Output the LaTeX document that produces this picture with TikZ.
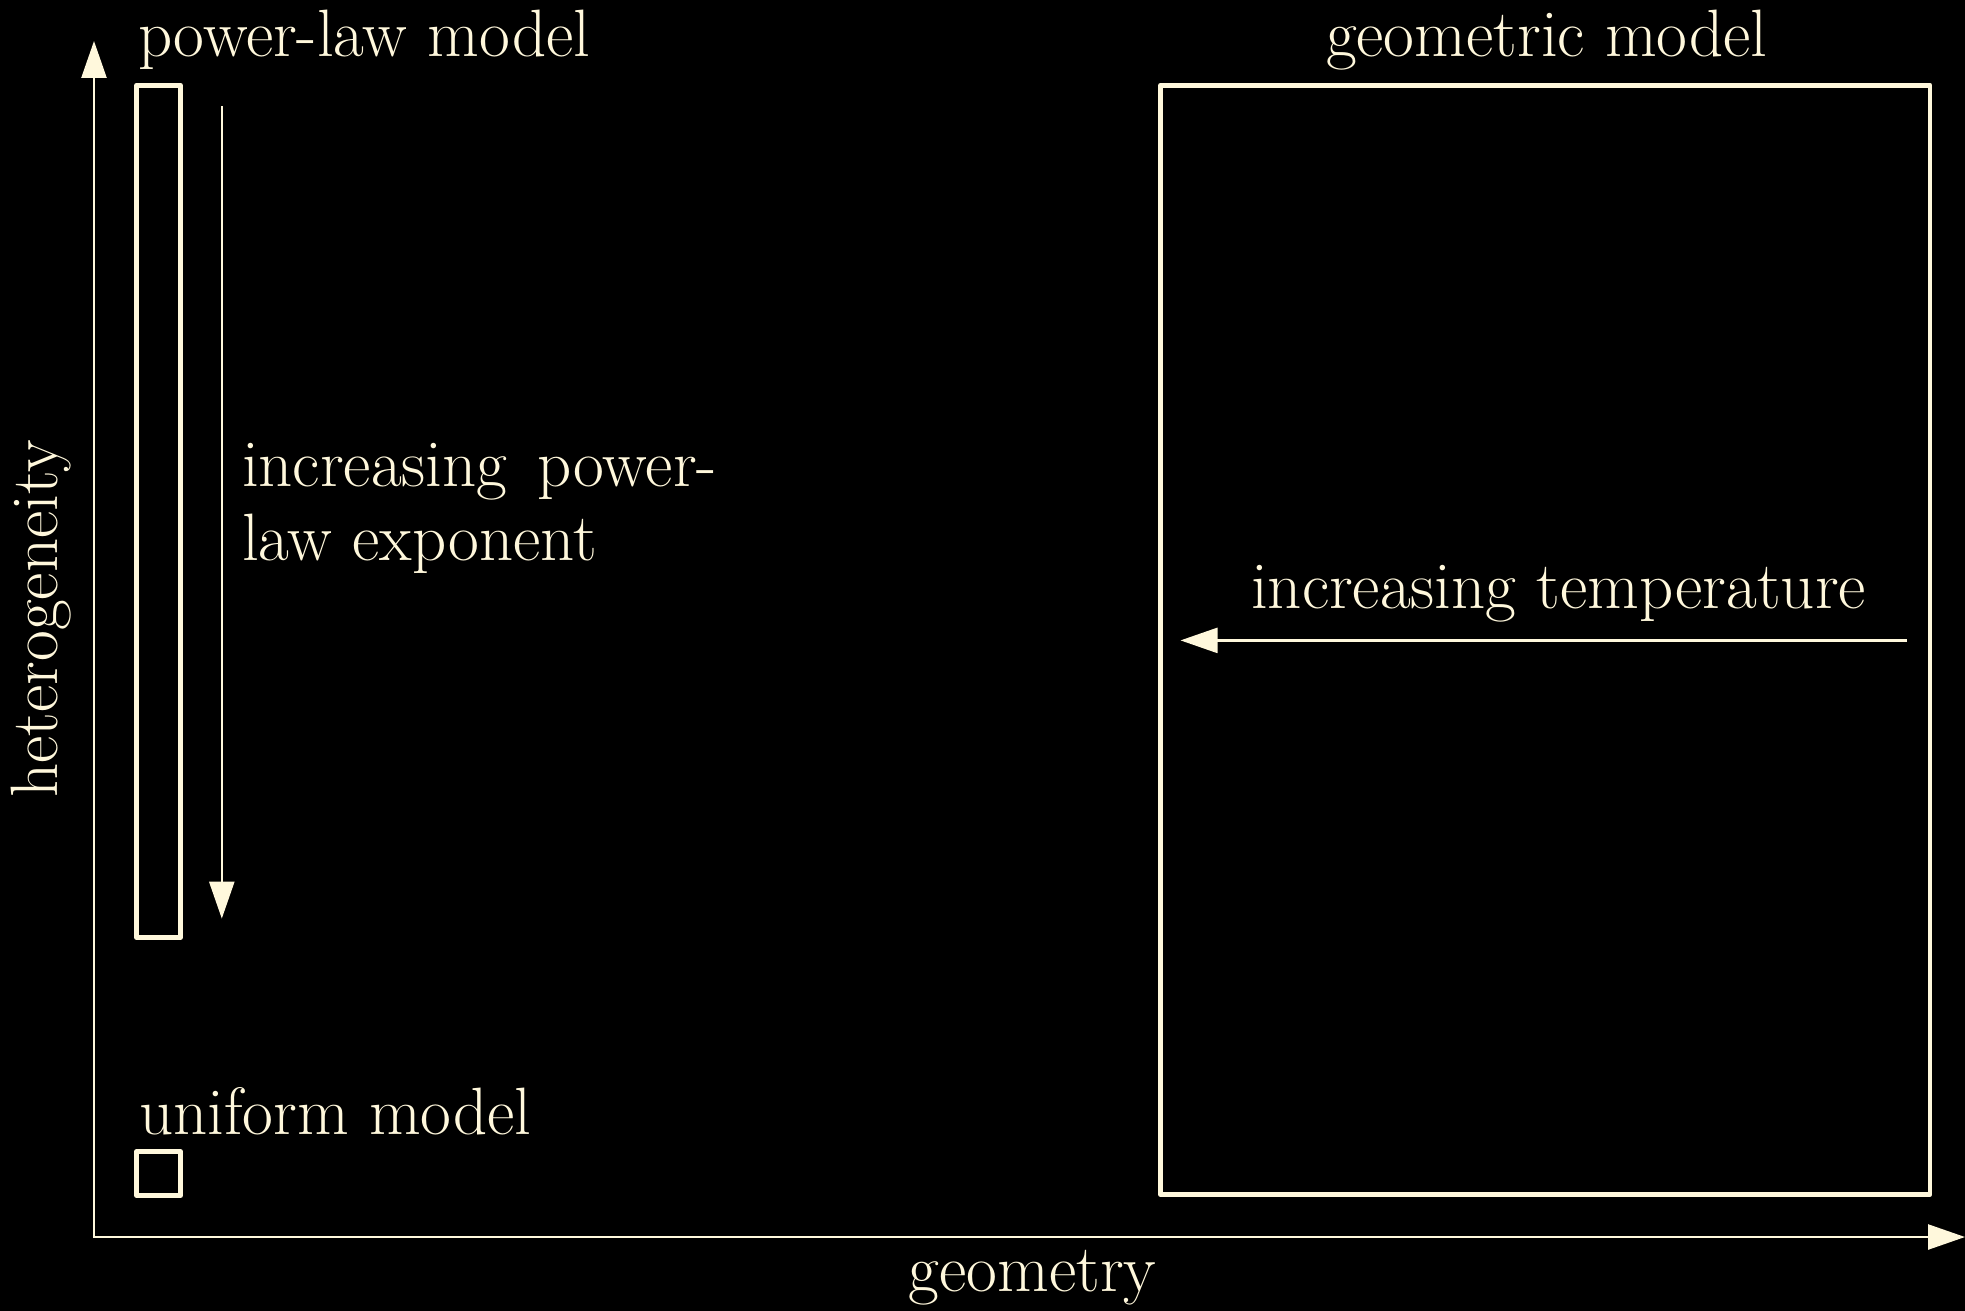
\documentclass[tikz,border=0pt]{standalone}
\usepackage{fontspec}
\usetikzlibrary{arrows.meta}
\definecolor{cream}{HTML}{FFF8DC}
\begin{document}
\begin{tikzpicture}[x=1pt,y=-1pt,line join=round,
  every node/.style={inner sep=0pt,outer sep=0pt,text=cream,font=\fontsize{67}{80}\selectfont},
  box/.style={draw=cream,line width=4.8pt,anchor=north west},
  arr/.style={draw=cream,line width=2.5pt,-{Triangle[width=25pt,length=37pt]}}]
\fill[black,use as bounding box] (0,0) rectangle (1965,1311);
% axes
\coordinate (yo) at (94,1238);
\coordinate (ytip) at (94,41);
\coordinate (xo) at (92.75,1237);
\coordinate (xtip) at (1965,1237);
\draw[arr] (yo) -- (ytip);
\draw[arr] (xo) -- (xtip);
% boxes
\node[box,minimum width=43.9pt,minimum height=852.2pt] (pl) at (136.6,85.2) {};
\node[box,minimum width=769.5pt,minimum height=1109.1pt] (geo) at (1160.5,85.2) {};
\node[box,minimum width=43.9pt,minimum height=43.9pt] (uni) at (136.6,1151.7) {};
% arrows
\coordinate (da1) at (221.8,106.5);
\coordinate (da2) at (221.8,918.6);
\draw[arr] (da1) -- (da2);
\coordinate (la1) at (1907,640.4);
\coordinate (la2) at (1180.5,640.4);
\draw[arr] (la1) -- (la2);
% labels
\node[anchor=base west] (tpl) at (138,56.4) {power-law model};
\node[anchor=base west] (tgeo) at (1326,56.4) {geometric model};
\node[anchor=base west] (tinc1) at (242,486) {\makebox[475pt][s]{increasing power-}};
\node[anchor=base west] (tinc2) at (242,560) {law exponent};
\node[anchor=base west] (ttemp) at (1251,608) {increasing temperature};
\node[anchor=base west] (tuni) at (139,1134) {uniform model};
\node[anchor=base] (tgeom) at (1032.6,1291) {geometry};
\node[anchor=base,rotate=90] (thet) at (57.6,619) {heterogeneity};
\end{tikzpicture}
\end{document}
